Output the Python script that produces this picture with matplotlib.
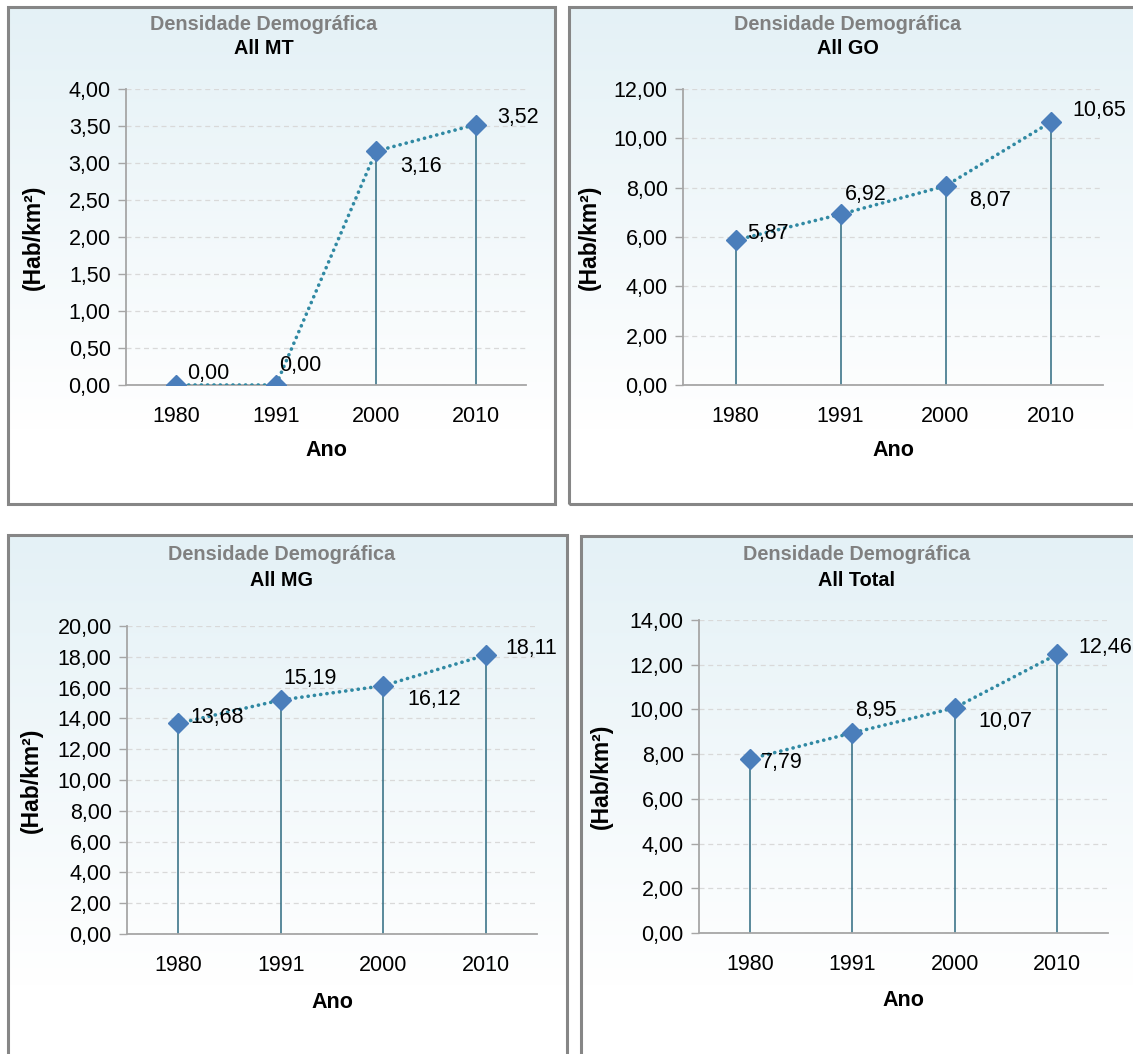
import numpy as np
import matplotlib.pyplot as plt
from matplotlib.patches import Rectangle

plt.rcParams['font.family'] = ['Liberation Sans', 'DejaVu Sans']

# Population density (inhabitants per km²) by census year
anos = ['1980', '1991', '2000', '2010']
dens_mt = [0.00, 0.00, 3.16, 3.52]
dens_go = [5.87, 6.92, 8.07, 10.65]
dens_mg = [13.68, 15.19, 16.12, 18.11]
dens_total = [7.79, 8.95, 10.07, 12.46]

titulos = ['All MT', 'All GO', 'All MG', 'All Total']
series = [dens_mt, dens_go, dens_mg, dens_total]
y_max = [4, 12, 20, 14]
y_passo = [0.5, 2, 2, 2]

W, H = 1133, 1054
fig = plt.figure(figsize=(W / 100, H / 100), dpi=100)


def fig_rect(x0, y0, x1, y1):
    # pixel box (top-left origin) -> figure fraction [left, bottom, width, height]
    return [x0 / W, 1 - y1 / H, (x1 - x0) / W, (y1 - y0) / H]


# chart frames, plot areas and title centres in pixels
frames = [(8, 7, 555, 504), (569, 7, 1145, 504),
          (8, 535, 567, 1065), (581, 536, 1145, 1065)]
plot_areas = [(126, 89, 526, 385), (683, 89, 1103, 385),
              (127, 626, 537, 934), (699, 620, 1108, 933)]
title_x = [264, 848, 282, 857]
title_y = [(24, 49), (24, 49), (554, 580), (554, 580)]
ylabel_x = [33, 589, 31, 601]
ano_y = [450, 450, 1003, 1000]

# offsets of each value label from its marker (pixels)
label_off = [
    [(11, 11), (3, 20), (24, -15), (21, 7)],
    [(12, 7), (4, 20), (24, -15), (22, 12)],
    [(12, 6), (3, 22), (24, -14), (20, 7)],
    [(11, -4), (3, 22), (24, -14), (21, 7)],
]

topo = np.array([0.894, 0.945, 0.965])
grad = np.linspace(0, 1, 256)
grad = np.clip(grad / 0.85, 0, 1)
grad_img = topo[None, :] * (1 - grad[:, None]) + grad[:, None]
grad_img = np.repeat(grad_img[:, None, :], 2, axis=1)

for i in range(4):
    fx0, fy0, fx1, fy1 = frames[i]
    bg = fig.add_axes(fig_rect(fx0, fy0, fx1, fy1), zorder=0)
    bg.imshow(grad_img, aspect='auto', extent=(0, 1, 0, 1), origin='upper')
    bg.add_patch(Rectangle((0, 0), 1, 1, transform=bg.transAxes, fill=False,
                           edgecolor='#868686', linewidth=2.2, clip_on=False))
    bg.set_xlim(0, 1)
    bg.set_ylim(0, 1)
    bg.axis('off')

    px0, py0, px1, py1 = plot_areas[i]
    ax = fig.add_axes(fig_rect(px0, py0, px1, py1), zorder=1)
    ax.patch.set_alpha(0)
    vals = series[i]
    x = np.arange(len(anos))

    ax.vlines(x, 0, vals, color='#2d6a80', linewidth=1.1, zorder=2)
    ax.plot(x, vals, linestyle=(0, (0.05, 1.7)), dash_capstyle='round',
            color='#3089a3', linewidth=2.6, zorder=3)
    ax.plot(x, vals, linestyle='none', marker='D', markersize=10.5,
            color='#4a7ebb', markeredgecolor='#4a7ebb', zorder=4)

    for j, v in enumerate(vals):
        dx, dy = label_off[i][j]
        ax.annotate(f'{v:.2f}'.replace('.', ','), (x[j], v),
                    xytext=(dx, dy), textcoords='offset pixels',
                    ha='left', va='center', fontsize=15.5, color='black',
                    zorder=5, annotation_clip=False)

    ax.set_xlim(-0.5, len(anos) - 0.5)
    ax.set_ylim(0, y_max[i])
    yt = np.arange(0, y_max[i] + y_passo[i] / 2, y_passo[i])
    ax.set_yticks(yt)
    ax.set_yticklabels([f'{t:.2f}'.replace('.', ',') for t in yt])
    ax.set_xticks(x)
    ax.set_xticklabels(anos)
    ax.tick_params(axis='y', labelsize=15.5, length=6, width=1,
                   color='#a6a6a6', pad=5)
    ax.tick_params(axis='x', labelsize=15.5, length=0, pad=15)
    ax.yaxis.grid(True, linestyle=(0, (4, 3)), color='#d9d9d9', linewidth=0.9)
    ax.set_axisbelow(True)
    for s in ['top', 'right']:
        ax.spines[s].set_visible(False)
    for s in ['left', 'bottom']:
        ax.spines[s].set_color('#a6a6a6')
        ax.spines[s].set_linewidth(1.3)

    # titles and axis names placed in figure pixels
    tx = title_x[i] / W
    fig.text(tx, 1 - title_y[i][0] / H, 'Densidade Demográfica',
             ha='center', va='center', fontsize=14.3, fontweight='bold',
             color='#808080', zorder=6)
    fig.text(tx, 1 - title_y[i][1] / H, titulos[i],
             ha='center', va='center', fontsize=14.3, fontweight='bold',
             color='black', zorder=6)
    fig.text(ylabel_x[i] / W, 1 - (py0 + py1) / 2 / H, '(Hab/km²)',
             rotation=90, ha='center', va='center', fontsize=16.5,
             fontweight='bold', zorder=6)
    fig.text((px0 + px1) / 2 / W, 1 - ano_y[i] / H, 'Ano',
             ha='center', va='center', fontsize=15.5, fontweight='bold',
             zorder=6)

fig.savefig('out.png', dpi=100)
